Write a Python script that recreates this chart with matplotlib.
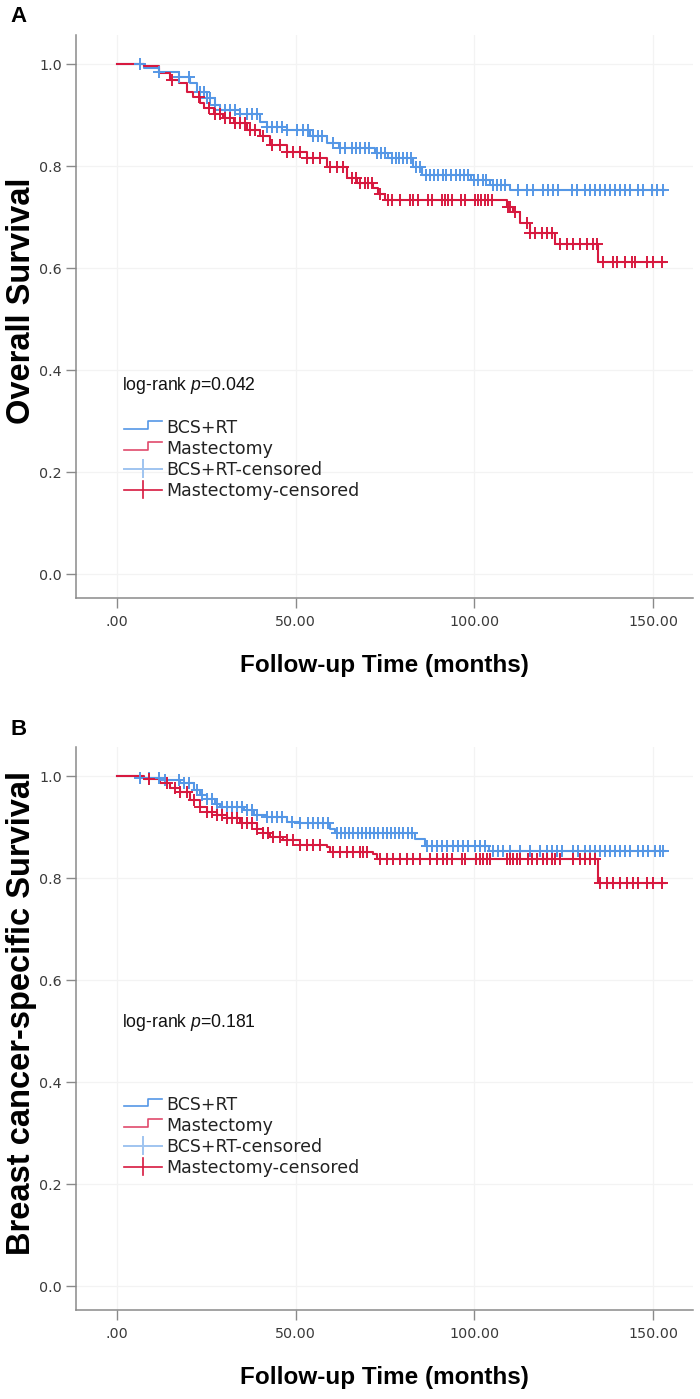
import numpy as np
import matplotlib
matplotlib.use("Agg")
import matplotlib.pyplot as plt
from matplotlib.legend_handler import HandlerBase
from matplotlib.lines import Line2D

# ---------------- data ----------------
END_TIME = 153.4
xticks = [0, 50, 100, 150]
xtick_labels = [".00", "50.00", "100.00", "150.00"]
yticks = [0.0, 0.2, 0.4, 0.6, 0.8, 1.0]
ytick_labels = ["0.0", "0.2", "0.4", "0.6", "0.8", "1.0"]

# Panel A: overall survival
a_bcs_t = [0, 7.4, 11.6, 17.2, 20.4, 22.3, 25.1, 27.4, 28.8, 34.4, 40.0, 41.9, 47.5, 54.0, 58.7,
           62.0, 72.2, 75.9, 82.9, 85.3, 99.2, 104.4, 110.0]
a_bcs_s = [1.0, 0.993, 0.985, 0.975, 0.962, 0.946, 0.933, 0.920, 0.910, 0.903, 0.887, 0.877, 0.871,
           0.858, 0.845, 0.835, 0.825, 0.815, 0.799, 0.782, 0.773, 0.763, 0.753]
a_bcs_cens = [6.4, 11.6, 17.2, 20.0, 23.2, 24.2, 25.1, 26.0, 27.4, 28.8, 30.2, 31.6, 33.0, 34.4,
              36.3, 37.7, 39.1, 41.9, 43.3, 44.7, 46.1, 47.5, 50.3, 52.1, 53.5, 54.9, 56.3, 57.3,
              60.5, 62.4, 63.8, 65.7, 66.9, 68.0, 69.4, 70.6, 72.7, 73.8, 75.0, 76.9, 78.0, 79.0,
              80.1, 81.2, 82.3, 83.7, 84.8, 86.5, 87.6, 88.7, 89.9, 91.1, 92.2, 93.6, 94.9, 96.0,
              97.1, 98.3, 99.9, 101.1, 102.3, 103.4, 105.1, 106.2, 107.4, 108.6, 112.3, 114.6,
              116.5, 119.1, 120.7, 122.1, 123.5, 127.2, 128.6, 131.0, 132.4, 133.8, 135.2, 136.6,
              138.0, 139.4, 140.8, 142.2, 143.6, 145.9, 147.3, 149.6, 151.0, 152.9]
a_mast_t = [0, 7.4, 11.6, 14.8, 17.2, 19.5, 21.3, 23.2, 24.2, 27.0, 29.7, 32.6, 36.3, 40.0, 42.8,
            47.5, 53.1, 58.7, 64.3, 67.1, 71.7, 73.1, 75.0, 109.0, 110.9, 112.8, 115.6, 122.6, 134.7]
a_mast_s = [1.0, 0.996, 0.982, 0.969, 0.962, 0.946, 0.936, 0.923, 0.913, 0.903, 0.894, 0.884, 0.871,
            0.858, 0.841, 0.828, 0.815, 0.799, 0.776, 0.766, 0.756, 0.746, 0.733, 0.720, 0.710,
            0.688, 0.668, 0.648, 0.611]
a_mast_cens = [15.3, 22.8, 25.6, 27.4, 28.8, 30.2, 31.6, 33.0, 34.4, 35.8, 37.2, 38.6, 40.9, 43.3,
               45.6, 47.5, 49.3, 51.2, 53.1, 54.9, 56.8, 59.6, 61.5, 63.3, 65.7, 66.9, 68.0, 69.4,
               70.3, 71.3, 73.6, 75.9, 76.9, 79.2, 82.0, 82.9, 84.3, 87.1, 88.1, 90.9, 91.8, 92.7,
               93.7, 96.4, 97.4, 100.2, 101.1, 102.0, 103.0, 103.9, 104.8, 109.5, 110.0, 111.4,
               114.6, 115.6, 117.0, 118.8, 120.2, 121.6, 124.0, 125.8, 127.7, 129.6, 131.4, 133.3,
               134.2, 136.1, 138.9, 139.8, 142.2, 144.0, 145.0, 148.2, 150.1, 152.4]

# Panel B: breast cancer-specific survival
b_bcs_t = [0, 6.4, 12.0, 17.6, 21.4, 23.2, 25.1, 27.4, 28.8, 35.4, 38.2, 41.9, 47.5, 51.2, 59.6,
           61.0, 83.5, 86.2, 104.0]
b_bcs_s = [1.0, 0.997, 0.993, 0.986, 0.973, 0.963, 0.956, 0.946, 0.940, 0.933, 0.923, 0.920, 0.910,
           0.907, 0.897, 0.888, 0.876, 0.863, 0.853]
b_bcs_cens = [6.4, 8.8, 11.6, 13.4, 17.2, 18.6, 20.0, 22.3, 23.7, 25.1, 26.5, 27.9, 29.3, 30.7,
              32.1, 33.5, 34.9, 36.3, 37.7, 39.1, 41.9, 43.3, 44.7, 46.1, 48.9, 51.2, 53.5, 54.9,
              56.3, 57.7, 59.1, 61.5, 62.6, 63.8, 65.0, 66.1, 67.3, 68.5, 69.6, 70.8, 71.9, 73.1,
              74.4, 75.5, 76.6, 77.8, 78.9, 80.1, 81.3, 82.5, 86.7, 88.1, 89.5, 90.9, 92.3, 94.1,
              95.5, 96.9, 98.3, 100.2, 101.6, 103.0, 105.3, 106.7, 108.1, 110.0, 112.8, 115.6,
              118.4, 120.2, 121.6, 123.0, 124.4, 127.7, 129.1, 131.0, 132.4, 133.8, 135.2, 136.6,
              138.0, 139.4, 140.8, 142.2, 143.6, 145.9, 147.3, 148.7, 150.6, 152.0, 152.9]
b_mast_t = [0, 7.4, 12.0, 14.8, 17.6, 20.4, 23.2, 25.1, 27.9, 30.7, 34.4, 39.1, 40.9, 42.8, 46.5,
            51.2, 58.7, 59.6, 71.7, 72.7, 134.6]
b_mast_s = [1.0, 0.995, 0.986, 0.976, 0.969, 0.953, 0.940, 0.930, 0.923, 0.917, 0.907, 0.897, 0.888,
            0.881, 0.875, 0.865, 0.861, 0.851, 0.848, 0.838, 0.791]
b_mast_cens = [8.8, 13.9, 16.2, 17.6, 19.5, 21.4, 23.2, 25.1, 26.5, 27.9, 29.3, 30.7, 32.1, 33.5,
               34.9, 36.3, 37.7, 39.1, 40.9, 42.3, 43.7, 45.6, 47.5, 49.3, 51.2, 53.1, 54.9, 56.8,
               60.5, 62.4, 64.3, 66.1, 68.0, 68.9, 69.9, 73.6, 75.5, 77.3, 79.2, 81.1, 82.9, 84.8,
               87.6, 89.5, 91.3, 92.3, 93.7, 96.5, 97.4, 100.6, 101.6, 102.5, 103.5, 104.4, 109.0,
               110.0, 110.9, 111.8, 112.8, 115.1, 116.0, 117.4, 119.3, 120.2, 121.6, 122.6, 124.0,
               127.7, 129.6, 131.0, 132.4, 133.8, 135.2, 137.0, 138.9, 140.8, 142.6, 144.5, 145.9,
               148.2, 150.1, 152.4]

group_labels = ["BCS+RT", "Mastectomy", "BCS+RT-censored", "Mastectomy-censored"]
panels = [
    dict(letter="A", ylabel="Overall Survival", p="0.042",
         bcs=(a_bcs_t, a_bcs_s, a_bcs_cens), mast=(a_mast_t, a_mast_s, a_mast_cens),
         text_y=0.377, leg_y=0.318),
    dict(letter="B", ylabel="Breast cancer-specific Survival", p="0.181",
         bcs=(b_bcs_t, b_bcs_s, b_bcs_cens), mast=(b_mast_t, b_mast_s, b_mast_cens),
         text_y=0.51, leg_y=0.38),
]

# ---------------- styling ----------------
BLUE = "#5597E6"
BLUE_LIGHT = "#9fc4f0"
RED = "#D7193F"
RED_LEG = "#E04A6C"
AXIS_GRAY = "#8a8a8a"
TICK_TXT = "#3a3a3a"

plt.rcParams["mathtext.fontset"] = "custom"
plt.rcParams["mathtext.rm"] = "Liberation Sans"
plt.rcParams["mathtext.it"] = "Liberation Sans:italic"


class StepHandler(HandlerBase):
    def create_artists(self, legend, orig_handle, xdescent, ydescent, width, height, fontsize, trans):
        x0 = -xdescent
        yl = -ydescent + height * 0.30
        yh = -ydescent + height * 0.95
        xs = [x0, x0 + 0.62 * width, x0 + 0.62 * width, x0 + width]
        ys = [yl, yl, yh, yh]
        ln = Line2D(xs, ys, color=orig_handle.get_color(), lw=orig_handle.get_linewidth())
        ln.set_transform(trans)
        return [ln]


class CensorHandler(HandlerBase):
    def create_artists(self, legend, orig_handle, xdescent, ydescent, width, height, fontsize, trans):
        x0 = -xdescent
        yc = -ydescent + height * 0.5
        h = Line2D([x0, x0 + width], [yc, yc], color=orig_handle.get_color(),
                   lw=orig_handle.get_linewidth())
        v = Line2D([x0 + width * 0.5] * 2, [yc - height * 0.7, yc + height * 0.7],
                   color=orig_handle.get_color(), lw=orig_handle.get_linewidth())
        h.set_transform(trans)
        v.set_transform(trans)
        return [h, v]


class StepKey(Line2D):
    pass


class CensorKey(Line2D):
    pass


def surv_at(times, surv, t):
    idx = np.searchsorted(np.asarray(times), np.asarray(t), side="right") - 1
    return np.asarray(surv)[idx]


fig = plt.figure(figsize=(7.0, 13.99), dpi=100)
W, H = 700, 1399
ax_left, ax_w, ax_h = 76 / W, 617 / W, 563 / H
bottoms = [(H - 598) / H, (H - 1310) / H]
letter_y = [17, 729]

for i, pn in enumerate(panels):
    ax = fig.add_axes([ax_left, bottoms[i], ax_w, ax_h])
    ax.set_xlim(-11.5, 161.2)
    ax.set_ylim(-0.047, 1.057)
    for s in ["top", "right"]:
        ax.spines[s].set_visible(False)
    for s in ["left", "bottom"]:
        ax.spines[s].set_color(AXIS_GRAY)
        ax.spines[s].set_linewidth(1.1)
    ax.set_xticks(xticks)
    ax.set_xticklabels(xtick_labels)
    ax.set_yticks(yticks)
    ax.set_yticklabels(ytick_labels)
    ax.tick_params(axis="both", direction="out", length=7.5, width=1.0, color=AXIS_GRAY,
                   labelcolor=TICK_TXT, labelsize=10.3)
    ax.tick_params(axis="x", pad=5)
    ax.tick_params(axis="y", pad=2.5)
    for lab in ax.get_xticklabels() + ax.get_yticklabels():
        lab.set_family("DejaVu Sans")
    ax.grid(True, color="#f3f3f3", lw=0.9)
    ax.set_axisbelow(True)

    for key, col in (("bcs", BLUE), ("mast", RED)):
        t, s, c = pn[key]
        tt = list(t) + [END_TIME]
        ss = list(s) + [s[-1]]
        ax.step(tt, ss, where="post", color=col, lw=1.5, zorder=3)
        ax.plot(c, surv_at(t, s, c), ls="none", marker="+", ms=8.5, mew=1.4, color=col, zorder=4)

    ax.set_xlabel("Follow-up Time (months)", family="Liberation Sans", fontweight="bold",
                  fontsize=17.5, color="black")
    ax.xaxis.set_label_coords(0.5, -0.100)
    ax.set_ylabel(pn["ylabel"], family="Liberation Sans", fontweight="bold", fontsize=23.5,
                  color="black")
    ax.yaxis.set_label_coords(-0.063, 0.527)

    ax.text(0.075, pn["text_y"], "log-rank $\\mathit{p}$=" + pn["p"], transform=ax.transAxes,
            family="Liberation Sans", fontsize=12.7, va="center", ha="left", color="#111111")

    handles = [StepKey([], [], color=BLUE, lw=1.2), StepKey([], [], color=RED_LEG, lw=1.2),
               CensorKey([], [], color=BLUE_LIGHT, lw=1.4), CensorKey([], [], color=RED, lw=1.2)]
    leg = ax.legend(handles, group_labels, loc="upper left", bbox_to_anchor=(0.078, pn["leg_y"]),
                    frameon=False, borderpad=0, borderaxespad=0,
                    handlelength=2.2, handletextpad=0.25, labelspacing=0.17,
                    handler_map={StepKey: StepHandler(), CensorKey: CensorHandler()},
                    prop={"family": "DejaVu Sans", "size": 12.5})
    for txt in leg.get_texts():
        txt.set_color("#222222")

    fig.text(10 / W, 1 - letter_y[i] / H, pn["letter"], family="Liberation Sans",
             fontweight="bold", fontsize=16, va="center", ha="left")

fig.savefig("out.png", dpi=100)
